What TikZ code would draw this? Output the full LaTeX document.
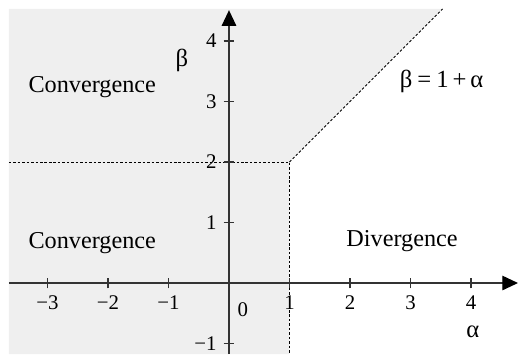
\documentclass[tikz,border=0pt]{standalone}
\usepackage{fontspec}
\setmainfont{Liberation Serif}
\usetikzlibrary{arrows.meta}
\definecolor{regiongray}{HTML}{EFEFEF}
\definecolor{axiscol}{HTML}{333333}
\tikzset{
  axisline/.style={draw=axiscol, line width=0.6pt, -{Triangle[length=2.6mm,width=2.4mm,fill=black,color=black]}},
  tickline/.style={draw=axiscol, line width=0.5pt},
  bound/.style={draw=black, line width=0.4pt, dash pattern=on 1.2pt off 0.9pt},
  lbl/.style={inner sep=0pt, font=\fontsize{9.8}{11}\selectfont},
  word/.style={inner sep=0pt, font=\fontsize{11.4}{13}\selectfont},
  greek/.style={inner sep=0pt, font=\fontsize{11.6}{13}\selectfont},
}
\begin{document}
\begin{tikzpicture}
\useasboundingbox (-3.785,-1.174) rectangle (4.777,4.678);
% shaded convergence region
\fill[regiongray] (-3.64,-1.174) -- (-3.64,4.53) -- (3.53,4.53) -- (1,2) -- (1,-1.174) -- cycle;
% boundaries
\coordinate (corner) at (1,2);
\coordinate (hleft) at (-3.64,2);
\coordinate (vbot) at (1,-1.174);
\coordinate (dtop) at (3.53,4.53);
\draw[bound] (hleft) -- (corner) -- (vbot);
\draw[bound] (corner) -- (dtop);
% axes
\coordinate (xs) at (-3.64,0);
\coordinate (xe) at (4.777,0);
\coordinate (ys) at (0,-1.174);
\coordinate (ye) at (0,4.51);
\draw[axisline] (xs) -- (xe);
\draw[axisline] (ys) -- (ye);
% ticks
\foreach \x in {-3,-2,-1,1,2,3,4} \draw[tickline] (\x,-0.09) -- (\x,0.09);
\foreach \y in {-1,1,2,3,4} \draw[tickline] (-0.09,\y) -- (0.09,\y);
\foreach \x/\t in {-3/−3,-2/−2,-1/−1,2/2,3/3,4/4} \node[lbl] (xl\x) at (\x,-0.32) {\t};
\node[lbl] (xl1) at (1,-0.33) {1};
\foreach \y/\t in {-1/−1,1/1,2/2,3/3,4/4} \node[lbl, anchor=east] (yl\y) at (-0.20,\y) {\t};
\node[lbl] (zero) at (0.23,-0.44) {0};
% axis names
\node[greek] (alpha) at (4.03,-0.80) {α};
\node[greek] (beta) at (-0.78,3.68) {β};
% region labels
\node[word] (conv1) at (-2.26,3.24) {Convergence};
\node[word] (conv2) at (-2.26,0.66) {Convergence};
\node[word] (div) at (2.86,0.69) {Divergence};
\node[greek] (eq) at (3.515,3.33) {β\hspace{0.2em}=\hspace{0.2em}1\hspace{0.16em}+\hspace{0.16em}α};
\end{tikzpicture}
\end{document}
